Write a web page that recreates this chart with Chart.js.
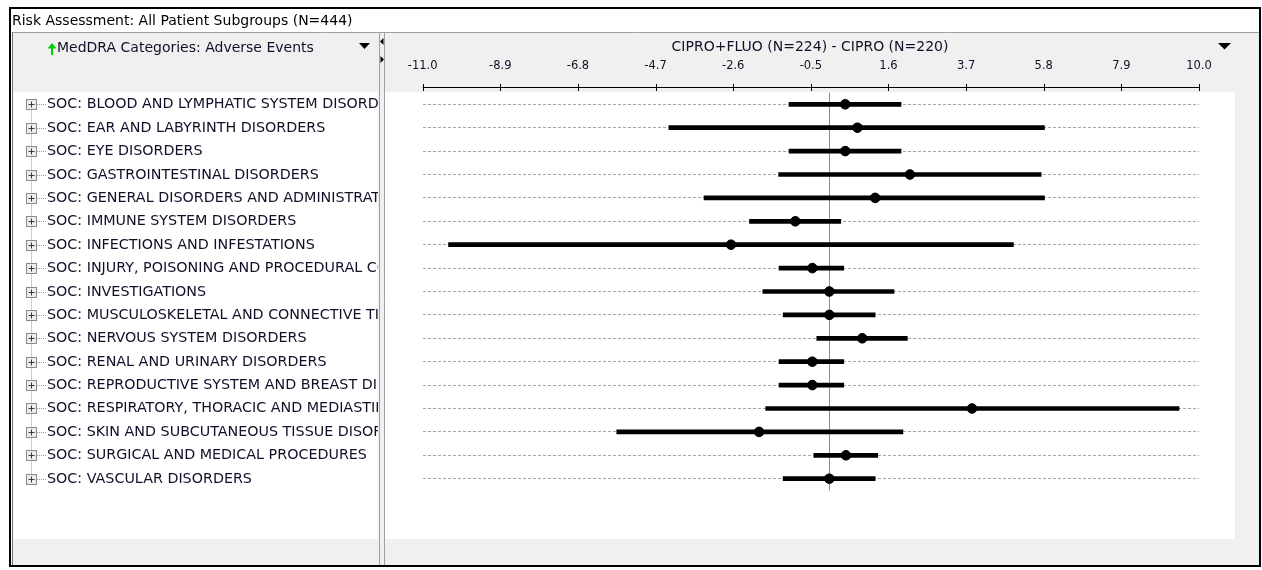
<!DOCTYPE html>
<html>
<head>
<meta charset="utf-8">
<title>Risk Assessment</title>
<script src="https://cdn.jsdelivr.net/npm/chart.js@4.4.0/dist/chart.umd.min.js"></script>
<style>
  html, body { margin: 0; padding: 0; background: #fff; }
  #wrap { position: relative; width: 1262px; height: 570px; }
</style>
</head>
<body>
<div id="wrap"><canvas id="risk" width="1262" height="570"></canvas></div>
<script>
// MedDRA system organ classes, top to bottom
const categories = [
  'SOC: BLOOD AND LYMPHATIC SYSTEM DISORDERS',
  'SOC: EAR AND LABYRINTH DISORDERS',
  'SOC: EYE DISORDERS',
  'SOC: GASTROINTESTINAL DISORDERS',
  'SOC: GENERAL DISORDERS AND ADMINISTRATION SITE CONDITIONS',
  'SOC: IMMUNE SYSTEM DISORDERS',
  'SOC: INFECTIONS AND INFESTATIONS',
  'SOC: INJURY, POISONING AND PROCEDURAL COMPLICATIONS',
  'SOC: INVESTIGATIONS',
  'SOC: MUSCULOSKELETAL AND CONNECTIVE TISSUE DISORDERS',
  'SOC: NERVOUS SYSTEM DISORDERS',
  'SOC: RENAL AND URINARY DISORDERS',
  'SOC: REPRODUCTIVE SYSTEM AND BREAST DISORDERS',
  'SOC: RESPIRATORY, THORACIC AND MEDIASTINAL DISORDERS',
  'SOC: SKIN AND SUBCUTANEOUS TISSUE DISORDERS',
  'SOC: SURGICAL AND MEDICAL PROCEDURES',
  'SOC: VASCULAR DISORDERS'
];

// risk difference (CIPRO+FLUO minus CIPRO) with confidence limits
const estimate = [0.43, 0.76, 0.43, 2.18, 1.24, -0.92, -2.66, -0.46, 0, 0, 0.89, -0.46, -0.46, 3.86, -1.90, 0.45, 0];
const lower = [-1.09, -4.34, -1.09, -1.37, -3.39, -2.16, -10.30, -1.36, -1.80, -1.25, -0.34, -1.36, -1.36, -1.72, -5.75, -0.42, -1.25];
const upper = [1.94, 5.82, 1.94, 5.73, 5.82, 0.31, 4.98, 0.39, 1.75, 1.24, 2.11, 0.39, 0.39, 9.46, 1.99, 1.31, 1.24];

const tickValues = [-11.0, -8.9, -6.8, -4.7, -2.6, -0.5, 1.6, 3.7, 5.8, 7.9, 10.0];

const windowTitle = 'Risk Assessment: All Patient Subgroups (N=444)';
const listHeader = 'MedDRA Categories: Adverse Events';
const comparisonTitle = 'CIPRO+FLUO (N=224) - CIPRO (N=220)';

const FONT = '"DejaVu Sans", sans-serif';
const INK = '#101028';

function triangle(c, pts) {
  c.beginPath();
  c.moveTo(pts[0][0], pts[0][1]);
  for (let i = 1; i < pts.length; i++) c.lineTo(pts[i][0], pts[i][1]);
  c.closePath();
  c.fill();
}

// window frame, pane headers and the category tree on the left
const chromePlugin = {
  id: 'chrome',
  beforeDraw(chart) {
    const c = chart.ctx;
    const y = chart.scales.y;
    c.save();
    c.fillStyle = '#fff';
    c.fillRect(0, 0, chart.width, chart.height);

    c.fillStyle = '#f0f0f0';
    c.fillRect(12, 32, 1247, 534);
    c.fillStyle = '#fff';
    c.fillRect(13, 92, 365, 447);
    c.fillRect(385, 92, 850, 447);

    c.strokeStyle = '#a0a0a0';
    c.lineWidth = 1;
    c.beginPath();
    c.moveTo(12, 32.5); c.lineTo(1259, 32.5);
    c.moveTo(379.5, 33); c.lineTo(379.5, 566);
    c.moveTo(384.5, 33); c.lineTo(384.5, 566);
    c.stroke();
    c.strokeStyle = '#6e6e6e';
    c.beginPath();
    c.moveTo(12.5, 32); c.lineTo(12.5, 566);
    c.stroke();

    c.strokeStyle = '#000';
    c.lineWidth = 2;
    c.strokeRect(10, 8, 1250, 558);

    c.font = '14px ' + FONT;
    c.textBaseline = 'middle';
    c.textAlign = 'left';
    c.fillStyle = '#000';
    c.fillText(windowTitle, 12, 21);

    c.fillStyle = INK;
    c.fillText(listHeader, 57, 48);
    c.textAlign = 'center';
    c.fillText(comparisonTitle, 810, 47.5);

    // sort indicator
    c.fillStyle = '#00d000';
    triangle(c, [[52, 43], [47.5, 48.5], [56.5, 48.5]]);
    c.fillRect(51, 48, 2, 7);

    // dropdown and splitter arrows
    c.fillStyle = '#000';
    triangle(c, [[359, 43], [370, 43], [364.5, 49]]);
    triangle(c, [[1218, 43], [1231, 43], [1224.5, 49.5]]);
    triangle(c, [[380, 41.5], [383.5, 38], [383.5, 45]]);
    triangle(c, [[384, 59.5], [380.5, 56], [380.5, 63]]);

    // tree rows share the y scale with the plot
    const rows = categories.map((_, i) => Math.round(y.getPixelForValue(i)) + 0.5);
    c.save();
    c.beginPath();
    c.rect(13, 92, 365, 447);
    c.clip();

    c.strokeStyle = '#9a9a9a';
    c.lineWidth = 1;
    c.setLineDash([1, 1]);
    c.beginPath();
    rows.forEach((ry, i) => {
      c.moveTo(37, ry); c.lineTo(46, ry);
      if (i < rows.length - 1) {
        c.moveTo(31.5, ry + 5); c.lineTo(31.5, rows[i + 1] - 5);
      }
    });
    c.stroke();
    c.setLineDash([]);

    rows.forEach(ry => {
      c.fillStyle = '#ececec';
      c.fillRect(27, ry - 4.5, 9, 9);
      c.strokeStyle = '#8a8a8a';
      c.strokeRect(26.5, ry - 5, 10, 10);
      c.strokeStyle = '#2c3a5a';
      c.beginPath();
      c.moveTo(28.5, ry); c.lineTo(34.5, ry);
      c.moveTo(31.5, ry - 3); c.lineTo(31.5, ry + 3);
      c.stroke();
    });

    c.font = '14.3px ' + FONT;
    c.textAlign = 'left';
    c.textBaseline = 'middle';
    c.fillStyle = INK;
    categories.forEach((name, i) => c.fillText(name, 47, rows[i]));
    c.restore();

    c.restore();
  },
  beforeDatasetsDraw(chart) {
    const c = chart.ctx;
    const x = chart.scales.x;
    const area = chart.chartArea;
    c.save();
    c.lineWidth = 1;

    // no-difference line
    const x0 = Math.round(x.getPixelForValue(0)) + 0.5;
    c.strokeStyle = '#8c8c8c';
    c.beginPath();
    c.moveTo(x0, area.top); c.lineTo(x0, area.bottom);
    c.stroke();

    // axis rule with ticks crossing it
    c.strokeStyle = '#000';
    c.beginPath();
    c.moveTo(x.left, 87.5); c.lineTo(x.right, 87.5);
    x.ticks.forEach(t => {
      const px = Math.round(x.getPixelForValue(t.value)) + 0.5;
      c.moveTo(px, 84); c.lineTo(px, 91);
    });
    c.stroke();
    c.restore();
  }
};

Chart.defaults.font.family = FONT;

new Chart(document.getElementById('risk'), {
  type: 'bar',
  data: {
    labels: categories,
    datasets: [
      {
        type: 'line',
        label: 'Risk difference',
        data: estimate,
        showLine: false,
        pointRadius: 4.8,
        pointHoverRadius: 4.8,
        pointBackgroundColor: '#000',
        pointBorderColor: '#000',
        pointBorderWidth: 1,
        order: 0
      },
      {
        label: 'Confidence interval',
        data: categories.map((_, i) => [lower[i], upper[i]]),
        backgroundColor: '#000',
        barThickness: 4,
        order: 1
      }
    ]
  },
  options: {
    indexAxis: 'y',
    responsive: false,
    animation: false,
    events: [],
    layout: { padding: { left: 422.7, right: 63, top: 0, bottom: 79.6 } },
    plugins: {
      legend: { display: false },
      tooltip: { enabled: false }
    },
    scales: {
      x: {
        type: 'linear',
        position: 'top',
        min: -11,
        max: 10,
        afterBuildTicks: s => { s.ticks = tickValues.map(v => ({ value: v })); },
        afterFit: s => { s.height = 92.6; },
        grid: { display: false },
        border: { display: false },
        ticks: {
          autoSkip: false,
          maxRotation: 0,
          padding: 11.5,
          color: INK,
          font: { size: 11.5 },
          callback: v => Number(v).toFixed(1)
        }
      },
      y: {
        offset: true,
        grid: { offset: false, color: '#a6a6a6', drawTicks: false, lineWidth: 1 },
        border: { display: false, dash: [3, 2] },
        ticks: { display: false }
      }
    }
  },
  plugins: [chromePlugin]
});
</script>
</body>
</html>
